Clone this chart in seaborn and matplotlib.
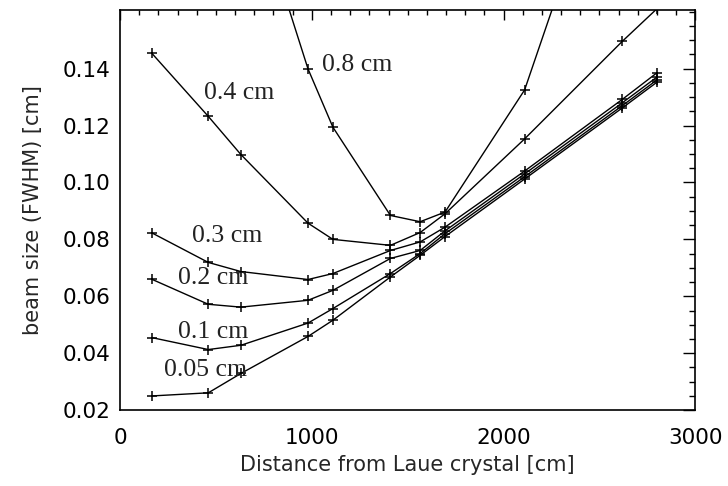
import matplotlib
matplotlib.use("Agg")
import matplotlib.pyplot as plt
import seaborn as sns
import pandas as pd
from matplotlib.ticker import MultipleLocator, FixedLocator

# ---- data ----
x_common = [165, 460, 630, 980, 1110, 1410, 1565, 1695, 2110, 2620, 2800]
y_005 = [0.0250, 0.0261, 0.0329, 0.0459, 0.0516, 0.0668, 0.0744, 0.0810, 0.1012, 0.1262, 0.1352]
y_01 = [0.0455, 0.0413, 0.0428, 0.0506, 0.0557, 0.0680, 0.0750, 0.0820, 0.1020, 0.1270, 0.1360]
y_02 = [0.0660, 0.0572, 0.0562, 0.0586, 0.0621, 0.0733, 0.0761, 0.0830, 0.1030, 0.1280, 0.1370]
y_03 = [0.0823, 0.0719, 0.0687, 0.0659, 0.0680, 0.0761, 0.0791, 0.0843, 0.1040, 0.1292, 0.1385]
y_04 = [0.1454, 0.1232, 0.1098, 0.0857, 0.0800, 0.0779, 0.0824, 0.0890, 0.1153, 0.1496, 0.1610]
x_08 = [630, 980, 1110, 1410, 1565, 1695, 2110, 2620]
y_08 = [0.2140, 0.1399, 0.1194, 0.0884, 0.0862, 0.0896, 0.1325, 0.2330]

labels = ["0.05 cm", "0.1 cm", "0.2 cm", "0.3 cm", "0.4 cm", "0.8 cm"]
label_x = [231, 304, 304, 374, 438, 1052]
label_y = [0.0320, 0.0455, 0.0642, 0.0791, 0.1294, 0.1393]

x_ticks = [0, 1000, 2000, 3000]
y_ticks = [0.02, 0.04, 0.06, 0.08, 0.10, 0.12, 0.14]

series = {"0.05 cm": (x_common, y_005), "0.1 cm": (x_common, y_01),
          "0.2 cm": (x_common, y_02), "0.3 cm": (x_common, y_03),
          "0.4 cm": (x_common, y_04), "0.8 cm": (x_08, y_08)}
rows = []
for name, (xs, ys) in series.items():
    for i, (xv, yv) in enumerate(zip(xs, ys)):
        rows.append({"size": name, "dist": xv, "fwhm": yv, "order": i})
df = pd.DataFrame(rows)

sns.set_theme(style="white")
plt.rcParams["font.family"] = ["DejaVu Sans"]

fig = plt.figure(figsize=(7.28, 4.86), dpi=100)
ax = fig.add_axes([0.165, 0.156, 0.790, 0.823])

sns.lineplot(data=df, x="dist", y="fwhm", hue="size", units="size",
             estimator=None, sort=False, palette={k: "black" for k in labels},
             marker="+", markersize=7.5, markeredgewidth=1.1,
             markeredgecolor="black", markerfacecolor="black", linewidth=1.0,
             legend=False, ax=ax)

ax.set_xlim(0, 3000)
ax.set_ylim(0.02, 0.1605)
ax.xaxis.set_major_locator(FixedLocator(x_ticks))
ax.xaxis.set_minor_locator(MultipleLocator(100))
ax.yaxis.set_major_locator(FixedLocator(y_ticks))
ax.yaxis.set_minor_locator(MultipleLocator(0.005))
ax.set_xticklabels([str(t) for t in x_ticks])
ax.set_yticklabels(["%.2f" % t for t in y_ticks])

ax.tick_params(axis="both", which="both", direction="in", top=True, right=True,
               colors="black", width=1.0)
ax.tick_params(axis="y", which="major", length=9, labelsize=15.5, pad=7)
ax.tick_params(axis="y", which="minor", length=4.5)
ax.tick_params(axis="x", which="major", length=7, labelsize=15.5, pad=13)
ax.tick_params(axis="x", which="minor", length=3.5)
for sp in ax.spines.values():
    sp.set_color("black")
    sp.set_linewidth(1.2)

ax.set_xlabel("Distance from Laue crystal [cm]", fontsize=15, labelpad=5)
ax.set_ylabel("beam size (FWHM) [cm]", fontsize=15, labelpad=14)

for t, tx, ty in zip(labels, label_x, label_y):
    ax.text(tx, ty, t, family="Liberation Serif", fontsize=18.5, color="#222222",
            ha="left", va="baseline")

fig.savefig("out.png", dpi=100)
